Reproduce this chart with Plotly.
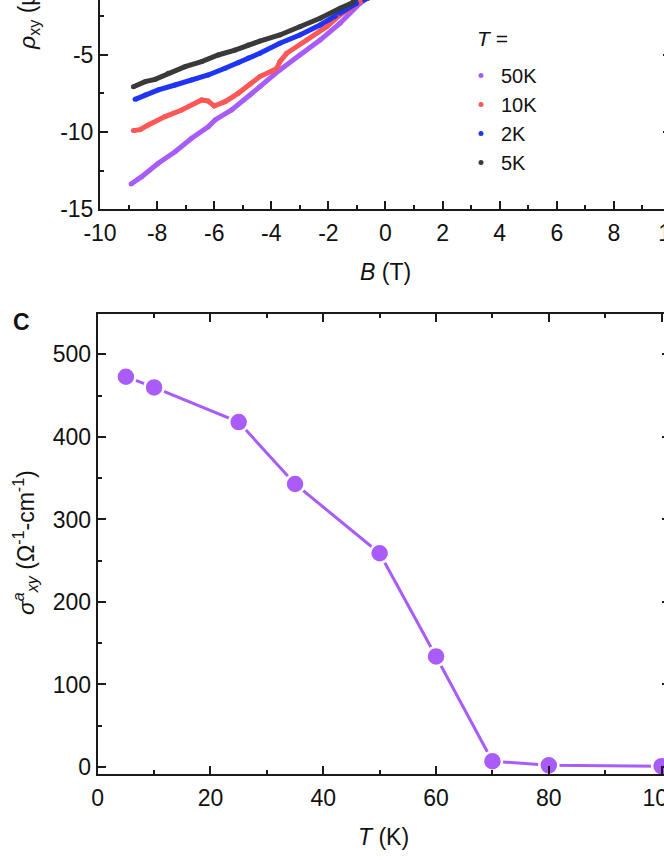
import plotly.graph_objects as go

# ---------------- data: panel with rho_xy vs B ----------------
B_50K = [-8.91, -8.54, -7.96, -7.37, -6.79, -6.21, -5.97, -5.39, -4.75, -4.4, -3.7, -3.0, -2.29, -1.59, -0.89, -0.6]
rho_50K = [-13.38, -12.9, -12.03, -11.28, -10.41, -9.66, -9.22, -8.57, -7.6, -7.06, -5.97, -5.0, -4.03, -2.94, -1.64, -1.25]

B_10K = [-8.83, -8.6, -8.31, -7.72, -7.14, -6.44, -6.21, -6.0, -5.62, -5.16, -4.75, -4.4, -3.93, -3.8, -3.7, -3.46, -2.76, -2.06, -1.59, -0.89, -0.6]
rho_10K = [-9.91, -9.85, -9.55, -9.0, -8.57, -7.92, -7.99, -8.31, -8.03, -7.49, -6.9, -6.4, -6.0, -5.85, -5.43, -4.89, -4.03, -3.16, -2.4, -1.54, -1.2]

B_2K = [-8.77, -8.42, -7.96, -7.37, -6.79, -6.21, -5.62, -5.16, -4.81, -4.4, -3.7, -3.0, -2.29, -1.59, -1.01, -0.6]
rho_2K = [-7.88, -7.6, -7.27, -6.95, -6.62, -6.3, -5.86, -5.5, -5.2, -4.89, -4.24, -3.7, -3.05, -2.29, -1.64, -1.3]

B_5K = [-8.83, -8.42, -8.07, -7.61, -7.02, -6.44, -5.86, -5.27, -4.81, -4.4, -3.7, -3.0, -2.29, -1.59, -1.13, -0.6]
rho_5K = [-7.06, -6.73, -6.58, -6.19, -5.76, -5.43, -5.0, -4.68, -4.35, -4.1, -3.7, -3.16, -2.62, -1.97, -1.54, -1.15]

series_names = ["50K", "10K", "2K", "5K"]
series_colors = ["#A75CF8", "#FF5656", "#1E35F5", "#3A3A3A"]

B_tickvals = [-10, -8, -6, -4, -2, 0, 2, 4, 6, 8, 10]
B_ticktext = ["-10", "-8", "-6", "-4", "-2", "0", "2", "4", "6", "8", "10"]
rho_tickvals = [-15, -10, -5]
rho_ticktext = ["-15", "-10", "-5"]

# ---------------- data: panel C sigma_xy^a vs T ----------------
T_vals = [5, 10, 25, 35, 50, 60, 70, 80, 100]
sigma_vals = [473, 460, 418, 343, 259, 134, 7, 2, 1]

T_tickvals = [0, 20, 40, 60, 80, 100]
T_ticktext = ["0", "20", "40", "60", "80", "100"]
sigma_tickvals = [0, 100, 200, 300, 400, 500]
sigma_ticktext = ["0", "100", "200", "300", "400", "500"]

FONT = "Arial, Liberation Sans, sans-serif"
AX = "#1a1a1a"
W, H = 680, 860   # page window is 664 wide; the right edge of the frames falls just outside it
FS = 23

fig = go.Figure()

series = [(B_50K, rho_50K), (B_10K, rho_10K), (B_2K, rho_2K), (B_5K, rho_5K)]
for (bx, ry), name, col in zip(series, series_names, series_colors):
    fig.add_trace(go.Scatter(x=bx, y=ry, mode="lines", line=dict(color=col, width=5),
                             showlegend=False, hoverinfo="skip", xaxis="x", yaxis="y"))
for (bx, ry), name, col in zip(series, series_names, series_colors):
    fig.add_trace(go.Scatter(x=bx, y=ry, mode="markers", name=name,
                             marker=dict(color=col, size=5), xaxis="x", yaxis="y"))

# panel C
fig.add_trace(go.Scatter(x=T_vals, y=sigma_vals, mode="lines+markers",
                         line=dict(color="#A95CFA", width=3),
                         marker=dict(color="#A95CFA", size=19, line=dict(color="white", width=2.5)),
                         showlegend=False, cliponaxis=False, xaxis="x2", yaxis="y2"))

def px_x(p):
    return p / W

def px_y(p):
    return 1 - p / H

minor_style = dict(ticks="inside", ticklen=4, tickwidth=1.5, tickcolor=AX)
common = dict(showgrid=False, zeroline=False, linecolor=AX, linewidth=2, automargin=False,
              ticks="inside", ticklen=8, tickwidth=1.5, tickcolor=AX, showline=True,
              tickfont=dict(family=FONT, size=FS, color="#111"))

fig.update_layout(
    width=W, height=H, margin=dict(l=0, r=0, t=0, b=0, pad=0, autoexpand=False),
    paper_bgcolor="white", plot_bgcolor="white",
    font=dict(family=FONT, color="#111"),
    xaxis=dict(domain=[px_x(100), px_x(671)], range=[-10, 10.001], anchor="y",
               tickvals=B_tickvals, ticktext=B_ticktext, ticklabelstandoff=2,
               ticklabeloverflow="allow",
               minor=dict(dtick=1, tick0=-10, **minor_style), **common),
    yaxis=dict(domain=[px_y(209), 1], range=[-15, -1.43], anchor="x", mirror="allticks",
               tickvals=rho_tickvals, ticktext=rho_ticktext, ticklabelstandoff=0,
               minor=dict(tickvals=[-12.5, -7.5, -2.5], **minor_style), **common),
    xaxis2=dict(domain=[px_x(97.7), px_x(669.5)], range=[0, 101.4], anchor="y2", mirror="allticks",
                tickvals=T_tickvals, ticktext=T_ticktext, ticklabelstandoff=2,
                ticklabeloverflow="allow",
                minor=dict(dtick=10, tick0=0, **minor_style), **common),
    yaxis2=dict(domain=[px_y(774), px_y(314)], range=[-8.5, 549], anchor="x2", mirror="allticks",
                tickvals=sigma_tickvals, ticktext=sigma_ticktext, ticklabelstandoff=0,
                minor=dict(dtick=50, tick0=0, **minor_style), **common),
    legend=dict(x=px_x(461), y=px_y(56), xanchor="left", yanchor="top",
                font=dict(family=FONT, size=20, color="#111"),
                bgcolor="rgba(0,0,0,0)", itemwidth=30, tracegroupgap=0),
)

ann_font = dict(family=FONT, size=FS, color="#111")
def add_text(text, x, y, size=FS, angle=0, xa="center", ya="middle"):
    fig.add_annotation(text=text, x=px_x(x), y=px_y(y), xref="paper", yref="paper",
                       xanchor=xa, yanchor=ya, textangle=angle, showarrow=False,
                       font=dict(family=FONT, size=size, color="#111"))

add_text("<i>T</i> =", 475, 38, size=21, xa="left")
add_text("<b>C</b>", 21, 322)
add_text("<i>B</i> (T)", 385, 272)
add_text("<i>T</i> (K)", 383, 837)
add_text("<i>σ</i><sup><i>a</i></sup><sub><i>xy</i></sub> (Ω<sup>-1</sup>-cm<sup>-1</sup>)", 25, 543, angle=-90)
add_text("<i>ρ</i><sub>xy</sub> (μΩ cm)", 28, 52, angle=-90, ya="bottom")

fig.write_html(
    "out.html",
    config={"displayModeBar": False},
    post_script="document.body.style.margin='0px';"
                "document.body.style.overflow='hidden';"
                "document.documentElement.style.overflow='hidden';",
)
